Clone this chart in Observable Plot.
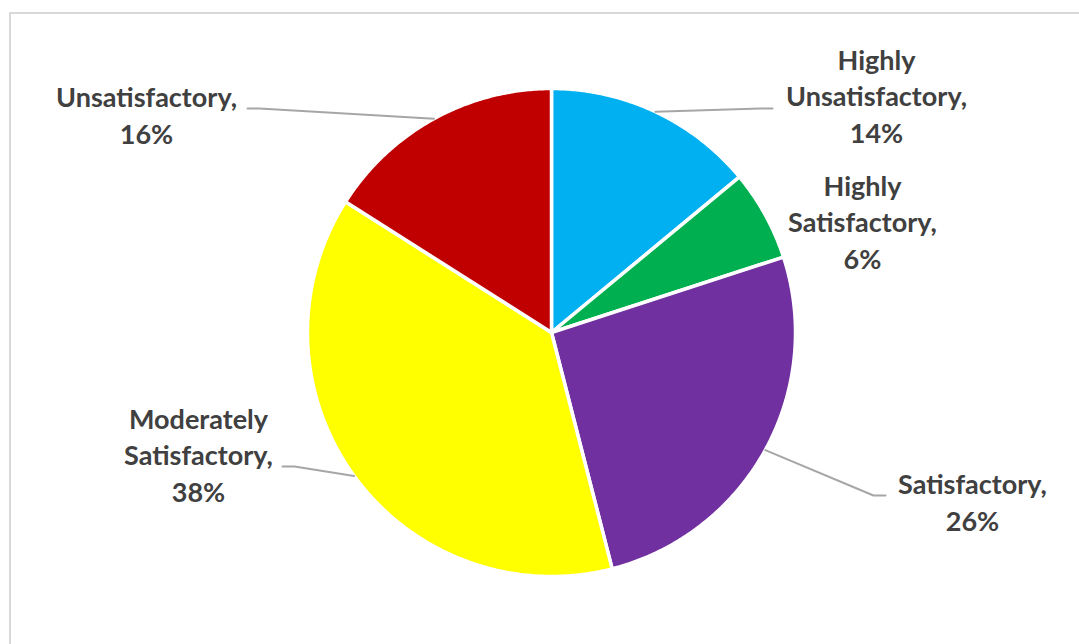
<!DOCTYPE html>
<html>
<head>
<meta charset="utf-8">
<script src="https://cdn.jsdelivr.net/npm/d3@7"></script>
<script src="https://cdn.jsdelivr.net/npm/@observablehq/plot@0.6"></script>
<style>
  html, body { margin: 0; padding: 0; background: #fff; overflow: hidden; }
  #frame { position: absolute; left: 9px; top: 12px; width: 1200px; height: 800px; border: 2px solid #d9d9d9; box-sizing: border-box; }
  #chart { position: absolute; left: 0; top: 0; }
</style>
</head>
<body>
<div id="frame"></div>
<div id="chart"></div>
<script>
// ---- data ----
const categories = ["Highly Unsatisfactory", "Highly Satisfactory", "Satisfactory", "Moderately Satisfactory", "Unsatisfactory"];
const values = [14, 6, 26, 38, 16];
const colors = ["#00B0F0", "#00B050", "#7030A0", "#FFFF00", "#C00000"];
const labelNames = ["Highly\nUnsatisfactory", "Highly\nSatisfactory", "Satisfactory", "Moderately\nSatisfactory", "Unsatisfactory"];

// ---- layout (pixels) ----
const cx = 551, cy = 332, R = 244;
const labelPos = [[876, 94], [862, 220], [972, 500], [198, 453], [146, 113]];
const leaderEnd = [[772, 108], null, [885, 495], [282, 466], [247, 108]];
const elbow = 12;

// ---- geometry from data ----
const total = d3.sum(values);
let acc = 0;
const slices = categories.map((c, i) => {
  const a0 = acc / total * 2 * Math.PI;
  acc += values[i];
  const a1 = acc / total * 2 * Math.PI;
  return {c, i, a0, a1, mid: (a0 + a1) / 2};
});

const slicePts = [];
slices.forEach(s => {
  slicePts.push({c: s.c, x: cx, y: cy});
  const n = Math.max(2, Math.ceil((s.a1 - s.a0) / (Math.PI / 360)));
  for (let k = 0; k <= n; k++) {
    const a = s.a0 + (s.a1 - s.a0) * k / n;
    slicePts.push({c: s.c, x: cx + R * Math.sin(a), y: cy - R * Math.cos(a)});
  }
  slicePts.push({c: s.c, x: cx, y: cy});
});

const leaderPts = [];
slices.forEach(s => {
  const e = leaderEnd[s.i];
  if (!e) return;
  const sx = cx + R * Math.sin(s.mid), sy = cy - R * Math.cos(s.mid);
  const dir = e[0] > cx ? -1 : 1;
  leaderPts.push({c: s.c, x: sx, y: sy});
  leaderPts.push({c: s.c, x: e[0] + dir * elbow, y: e[1]});
  leaderPts.push({c: s.c, x: e[0], y: e[1]});
});

const labels = slices.map(s => ({
  x: labelPos[s.i][0], y: labelPos[s.i][1],
  text: `${labelNames[s.i]},\n${values[s.i]}%`
}));

const chart = Plot.plot({
  width: 1079, height: 644, margin: 0,
  x: {domain: [0, 1079], range: [0, 1079], axis: null},
  y: {domain: [0, 644], range: [0, 644], axis: null},
  color: {domain: categories, range: colors},
  style: {background: "transparent", overflow: "visible"},
  marks: [
    Plot.line(slicePts, {x: "x", y: "y", z: "c", fill: "c", stroke: "white", strokeWidth: 3.5, strokeLinejoin: "round"}),
    Plot.line(leaderPts, {x: "x", y: "y", z: "c", stroke: "#A6A6A6", strokeWidth: 2}),
    Plot.text(labels, {x: "x", y: "y", text: "text", fill: "#404040", fontSize: 27, fontWeight: "bold", fontFamily: "Lato", lineHeight: 1.36, textAnchor: "middle"})
  ]
});
document.getElementById("chart").appendChild(chart);
</script>
</body>
</html>
